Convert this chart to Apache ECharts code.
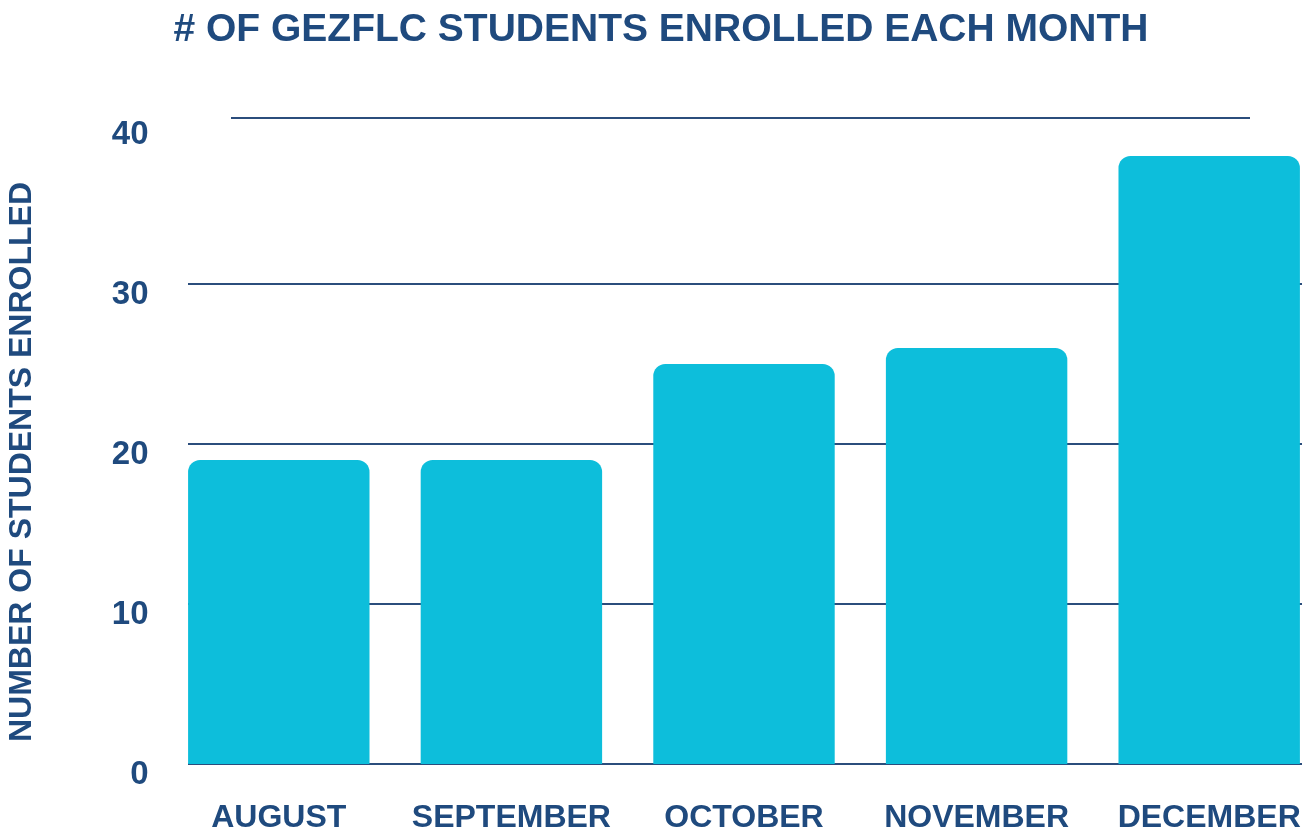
<!DOCTYPE html>
<html>
<head>
<meta charset="utf-8">
<title>GEZFLC enrollment</title>
<script src="https://cdn.jsdelivr.net/npm/echarts@6/dist/echarts.min.js"></script>
<style>
  html, body { margin: 0; padding: 0; background: #fff; }
  #chart { width: 1310px; height: 832px; }
</style>
</head>
<body>
<div id="chart"></div>
<script>
// months on the x axis
var months = ['AUGUST', 'SEPTEMBER', 'OCTOBER', 'NOVEMBER', 'DECEMBER'];
// students enrolled each month
var enrolled = [19, 19, 25, 26, 38];
// y axis ticks
var yMin = 0, yMax = 40, yStep = 10;

var navy = '#1f4a7e';
var lineColor = '#2b4d7c';
var font = '"Liberation Sans", Arial, Helvetica, sans-serif';

var chart = echarts.init(document.getElementById('chart'));

var option = {
  backgroundColor: '#fff',
  animation: false,
  title: {
    text: '# OF GEZFLC STUDENTS ENROLLED EACH MONTH',
    left: 656,
    textAlign: 'center',
    top: 6,
    textStyle: { color: navy, fontFamily: font, fontWeight: 'bold', fontSize: 39 }
  },
  grid: [
    // bars (last slot runs past the right edge)
    { left: 162.5, width: 1163, top: 124, bottom: 68, outerBoundsMode: 'none' },
    // lines 0..30
    { left: 188, right: 8, top: 124, bottom: 68, outerBoundsMode: 'none' },
    // top line sits a bit higher and shorter
    { left: 231, right: 60, top: 118, height: 10, outerBoundsMode: 'none' }
  ],
  xAxis: [{
    type: 'category',
    gridIndex: 0,
    data: months,
    axisLine: { show: false },
    axisTick: { show: false },
    axisLabel: {
      color: navy, fontFamily: font, fontWeight: 'bold', fontSize: 32,
      margin: 38, interval: 0
    }
  }, {
    type: 'value', gridIndex: 1, show: false, min: 0, max: 1
  }, {
    type: 'value', gridIndex: 2, show: false, min: 0, max: 1
  }],
  yAxis: [{
    type: 'value',
    gridIndex: 0,
    min: yMin,
    max: yMax,
    interval: yStep,
    name: 'NUMBER OF STUDENTS ENROLLED',
    nameLocation: 'middle',
    nameRotate: 90,
    nameGap: 124,
    nameTextStyle: {
      color: navy, fontFamily: font, fontWeight: 'bold', fontSize: 32,
      padding: [0, 36, 0, 0]
    },
    axisLine: { show: false },
    axisTick: { show: false },
    splitLine: { show: false },
    axisLabel: {
      color: navy, fontFamily: font, fontWeight: 'bold', fontSize: 33,
      margin: 14, verticalAlign: 'top', lineHeight: 22
    }
  }, {
    type: 'value',
    gridIndex: 1,
    min: yMin,
    max: yMax,
    interval: yStep,
    axisLine: { show: false },
    axisTick: { show: false },
    axisLabel: { show: false },
    splitLine: { show: true, showMaxLine: false, lineStyle: { color: lineColor, width: 2 } }
  }, {
    type: 'value',
    gridIndex: 2,
    min: 0,
    max: 1,
    interval: 1,
    axisLine: { show: false },
    axisTick: { show: false },
    axisLabel: { show: false },
    splitLine: { show: true, showMinLine: false, lineStyle: { color: lineColor, width: 2 } }
  }],
  series: [{
    type: 'bar',
    xAxisIndex: 0,
    yAxisIndex: 0,
    data: enrolled,
    barCategoryGap: '22%',
    itemStyle: { color: '#0dbedb', borderRadius: [12, 12, 0, 0] },
    z: 3
  }]
};

chart.setOption(option);
</script>
</body>
</html>
